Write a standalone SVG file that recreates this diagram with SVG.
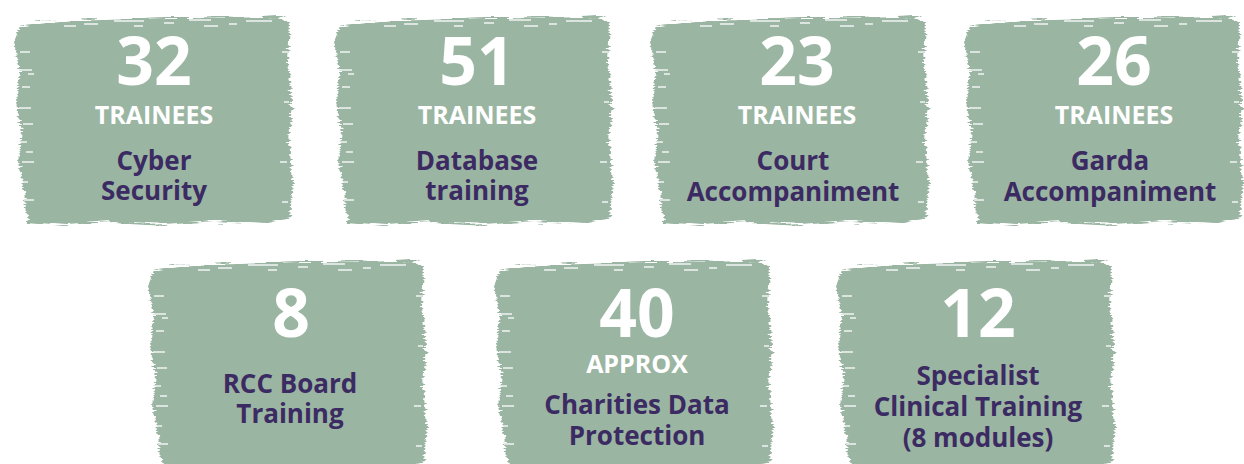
<svg xmlns="http://www.w3.org/2000/svg" xmlns:xlink="http://www.w3.org/1999/xlink" width="1244" height="464" viewBox="0 0 1244 464">
<style>
.bg{fill:#9bb5a3}
.tex{stroke:#ffffff;stroke-width:1.4;fill:none;opacity:0.85}
.num{fill:#ffffff;font-family:"Open Sans","Liberation Sans",sans-serif;font-weight:700;font-size:66px;text-anchor:middle}
.lab{fill:#ffffff;font-family:"Open Sans","Liberation Sans",sans-serif;font-weight:700;font-size:25px;text-anchor:middle}
.desc{fill:#3b2b62;font-family:"Open Sans","Liberation Sans",sans-serif;font-weight:700;font-size:26px;text-anchor:middle}
</style>
<defs>
<filter id="rough" x="-5%" y="-5%" width="110%" height="110%">
<feTurbulence type="fractalNoise" baseFrequency="0.03 0.5" numOctaves="2" seed="4" result="n"/>
<feDisplacementMap in="SourceGraphic" in2="n" scale="9" xChannelSelector="R" yChannelSelector="G"/>
</filter>
<g id="brush">
<path class="bg" filter="url(#rough)" d="M6 14 C40 6 90 10 130 6 C170 3 220 8 262 4 L276 10 L274 50 L278 90 L275 130 L279 170 L276 206 L250 212 L200 209 L150 213 L100 210 L50 213 L14 210 L10 180 L4 150 L8 120 L2 90 L6 60 L0 30 Z"/>
<path class="tex" d="M30 9 h26 M70 12 h14 M100 9 h30 M150 11 h10 M175 8 h22 M215 12 h8 M232 9 h26 M50 14 h12 M120 14 h9 M190 14 h14"/>
<path class="tex" d="M6 40 h10 M4 58 h14 M8 75 h8 M5 96 h12 M9 112 h10 M4 130 h9 M8 150 h12 M6 170 h8 M10 188 h10 M14 62 h6 M12 140 h7"/>
<path class="tex" d="M268 40 h6 M270 90 h5 M266 150 h7 M268 190 h6"/>
</g>
</defs>

<g id="node-cyber">
<use xlink:href="#brush" transform="translate(14,12)"/>
<text class="num" x="154" y="85">32</text>
<text class="lab" x="154" y="124">TRAINEES</text>
<text class="desc" x="154" y="170">Cyber</text>
<text class="desc" x="154" y="200">Security</text>
</g>

<g id="node-database">
<use xlink:href="#brush" transform="translate(334,12)"/>
<text class="num" x="477" y="85">51</text>
<text class="lab" x="477" y="124">TRAINEES</text>
<text class="desc" x="477" y="170">Database</text>
<text class="desc" x="477" y="200">training</text>
</g>

<g id="node-court">
<use xlink:href="#brush" transform="translate(650,12)"/>
<text class="num" x="797" y="85">23</text>
<text class="lab" x="797" y="124">TRAINEES</text>
<text class="desc" x="793" y="170">Court</text>
<text class="desc" x="793" y="201">Accompaniment</text>
</g>

<g id="node-garda">
<use xlink:href="#brush" transform="translate(964,12)"/>
<text class="num" x="1114" y="85">26</text>
<text class="lab" x="1114" y="124">TRAINEES</text>
<text class="desc" x="1110" y="170">Garda</text>
<text class="desc" x="1110" y="201">Accompaniment</text>
</g>

<g id="node-rcc">
<use xlink:href="#brush" transform="translate(148,256)"/>
<text class="num" x="291" y="337">8</text>
<text class="desc" x="290" y="393">RCC Board</text>
<text class="desc" x="290" y="423">Training</text>
</g>

<g id="node-charities">
<use xlink:href="#brush" transform="translate(494,256)"/>
<text class="num" x="637" y="337">40</text>
<text class="lab" x="637" y="373">APPROX</text>
<text class="desc" x="637" y="414">Charities Data</text>
<text class="desc" x="637" y="445">Protection</text>
</g>

<g id="node-clinical">
<use xlink:href="#brush" transform="translate(836,256)"/>
<text class="num" x="978" y="337">12</text>
<text class="desc" x="978" y="385">Specialist</text>
<text class="desc" x="978" y="416">Clinical Training</text>
<text class="desc" x="978" y="447">(8 modules)</text>
</g>

<g id="connectors"></g>
</svg>
